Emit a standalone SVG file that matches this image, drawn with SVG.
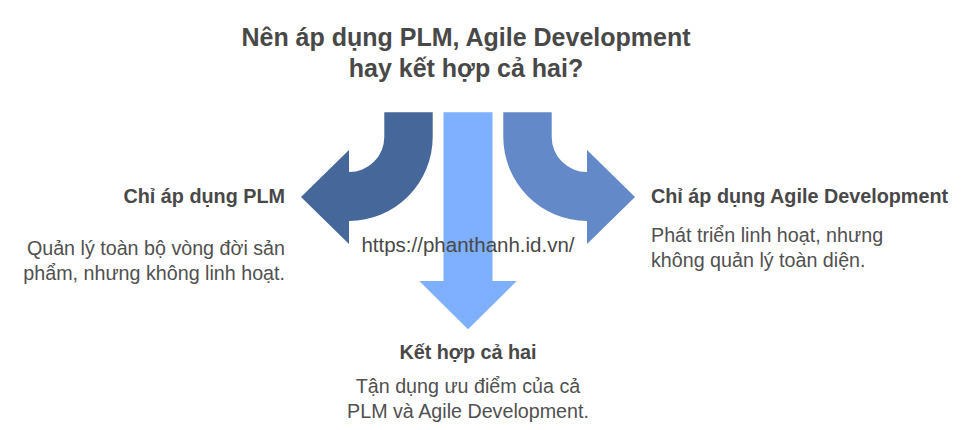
<svg xmlns="http://www.w3.org/2000/svg" width="972" height="430" viewBox="0 0 972 430">
<style>
.t{font-family:"Liberation Sans",Arial,sans-serif;fill:#484848}
.h{font-weight:bold;font-size:19.8px}
.d{font-size:19.7px;fill:#505050}
.ttl{font-weight:bold;font-size:25px}
</style>
<rect width="972" height="430" fill="#fff"/>
<g id="title">
<text class="t ttl" x="466" y="46" text-anchor="middle">Nên áp dụng PLM, Agile Development</text>
<text class="t ttl" x="466" y="77" text-anchor="middle">hay kết hợp cả hai?</text>
</g>
<g id="connectors">
<path id="arrow-left" d="M384.3 112.3 L432.7 112.3 L432.7 137 A84 84 0 0 1 349 221 L349 244 L301 197 L349 150 L349 172 A35 35 0 0 0 384.3 137 Z" fill="#45679A"/>
<path id="arrow-right" d="M551.7 112.3 L503.3 112.3 L503.3 137 A84 84 0 0 0 587 221 L587 244 L635 197 L587 150 L587 172 A35 35 0 0 1 551.7 137 Z" fill="#6389C9"/>
<path id="arrow-down" d="M443.5 112.3 L492.5 112.3 L492.5 281 L516.7 281 L468 329.3 L419.3 281 L443.5 281 Z" fill="#7FAFFF"/>
</g>
<g id="url">
<text class="t" x="468" y="252" text-anchor="middle" font-size="20.5" fill="#505050">https://phanthanh.id.vn/</text>
</g>
<g id="node-plm">
<text class="t h" x="285" y="203" text-anchor="end">Chỉ áp dụng PLM</text>
<text class="t d" x="285" y="255" text-anchor="end">Quản lý toàn bộ vòng đời sản</text>
<text class="t d" x="285" y="280" text-anchor="end">phẩm, nhưng không linh hoạt.</text>
</g>
<g id="node-agile">
<text class="t h" x="651" y="203">Chỉ áp dụng Agile Development</text>
<text class="t d" x="651" y="241.5">Phát triển linh hoạt, nhưng</text>
<text class="t d" x="651" y="266.5">không quản lý toàn diện.</text>
</g>
<g id="node-both">
<text class="t h" x="468" y="359" text-anchor="middle">Kết hợp cả hai</text>
<text class="t d" x="468" y="393" text-anchor="middle">Tận dụng ưu điểm của cả</text>
<text class="t d" x="468" y="418" text-anchor="middle">PLM và Agile Development.</text>
</g>
</svg>
